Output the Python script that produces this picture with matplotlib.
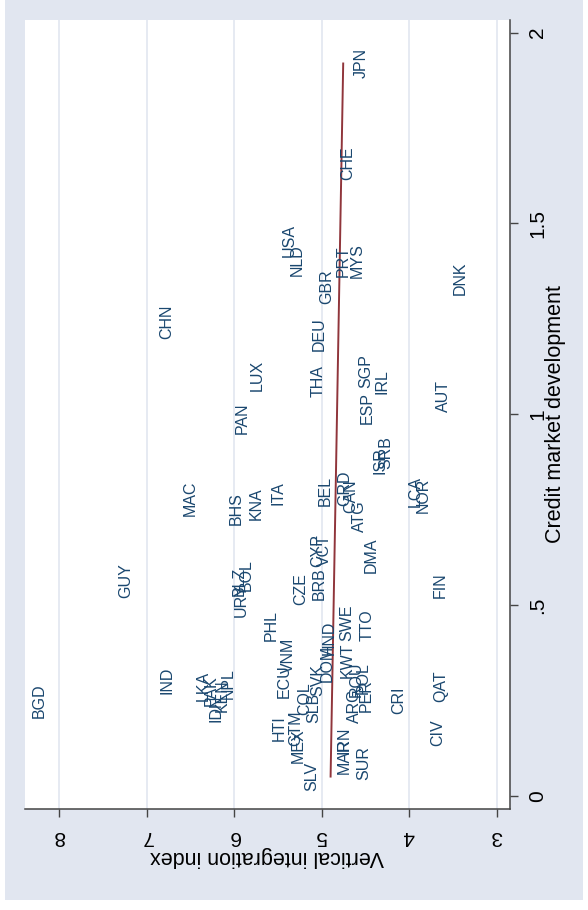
import numpy as np
import matplotlib
matplotlib.use("Agg")
import matplotlib.pyplot as plt
from matplotlib.patches import Rectangle

plt.rcParams['font.family'] = ['Liberation Sans', 'DejaVu Sans']

# Country codes, vertical integration index and credit market development
codes = ["JPN", "CHE", "USA", "NLD", "GBR", "PRT", "MYS", "DNK", "CHN", "LUX",
         "DEU", "THA", "SGP", "ESP", "IRL", "PAN", "AUT", "ISR", "SRB", "MAC",
         "BHS", "KNA", "ITA", "BEL", "GRD", "CAN", "ATG", "LCA", "NOR", "DMA",
         "GUY", "URY", "BLZ", "BOL", "CZE", "BRB", "CYP", "VCT", "FIN", "PHL",
         "TTO", "SWE", "VNM", "ECU", "HND", "DOM", "KWT", "IND", "BGD", "LKA",
         "PAK", "IDN", "KEN", "NPL", "HTI", "MEX", "GTM", "COL", "SLB", "SVK",
         "SLV", "MAR", "IRN", "ARG", "ROU", "PER", "POL", "CRI", "QAT", "CIV",
         "SUR"]
vert_index = [4.552, 4.701, 5.367, 5.283, 4.941, 4.758, 4.598, 3.421, 6.769, 5.741,
              5.032, 5.043, 4.495, 4.483, 4.312, 5.912, 3.603, 4.335, 4.267, 6.507,
              5.981, 5.752, 5.501, 4.963, 4.735, 4.666, 4.563, 3.935, 3.843, 4.431,
              7.237, 5.923, 5.946, 5.865, 5.237, 5.031, 5.043, 4.963, 3.650, 5.581,
              4.483, 4.712, 5.375, 5.432, 4.917, 4.941, 4.712, 6.769, 8.232, 6.358,
              6.266, 6.209, 6.140, 6.071, 5.489, 5.271, 5.295, 5.192, 5.089, 5.043,
              5.111, 4.746, 4.746, 4.625, 4.610, 4.495, 4.522, 4.117, 3.640, 3.670,
              4.518]
credit = [1.919, 1.657, 1.456, 1.403, 1.335, 1.401, 1.403, 1.356, 1.243, 1.102,
          1.209, 1.086, 1.112, 1.015, 1.086, 0.989, 1.047, 0.879, 0.898, 0.780,
          0.753, 0.766, 0.793, 0.798, 0.806, 0.785, 0.732, 0.798, 0.787, 0.630,
          0.565, 0.512, 0.562, 0.578, 0.541, 0.557, 0.643, 0.643, 0.551, 0.447,
          0.447, 0.452, 0.368, 0.300, 0.413, 0.347, 0.356, 0.303, 0.248, 0.287,
          0.274, 0.229, 0.263, 0.294, 0.177, 0.130, 0.177, 0.255, 0.229, 0.303,
          0.050, 0.103, 0.145, 0.235, 0.306, 0.263, 0.307, 0.250, 0.287, 0.164,
          0.085]

# Linear fit of the index on credit market development (end points)
fit_credit = [0.050, 1.919]
fit_index = [4.898, 4.754]

vi_ticks = [3, 4, 5, 6, 7, 8]
cm_ticks = [0, 0.5, 1, 1.5, 2]
cm_tick_labels = ["0", ".5", "1", "1.5", "2"]

navy = "#1a476f"
maroon = "#90353b"
panel = "#e1e6f0"

W, H = 588, 910
fig = plt.figure(figsize=(W / 100, H / 100), dpi=100, facecolor="white")
fig.patches.append(Rectangle((5 / W, 10 / H), 578 / W, 900 / H,
                             transform=fig.transFigure, facecolor=panel,
                             edgecolor="none", zorder=-10))

ax = fig.add_axes([25 / W, 1 - 809 / H, 485 / W, 789 / H])
ax.set_zorder(1)
ax.set_facecolor("white")
ax.set_xlim(8.39, 2.848)
ax.set_ylim(-0.035, 2.033)

for s in ("left", "top"):
    ax.spines[s].set_visible(False)
for s in ("bottom", "right"):
    ax.spines[s].set_color("#444444")
    ax.spines[s].set_linewidth(1.1)

ax.yaxis.tick_right()
ax.yaxis.set_label_position("right")
ax.set_xticks(vi_ticks)
ax.set_xticklabels([str(v) for v in vi_ticks], rotation=180, fontsize=15)
ax.set_yticks(cm_ticks)
ax.set_yticklabels(cm_tick_labels, rotation=90, va="center", fontsize=15)
ax.tick_params(axis="both", length=6, width=1.0, color="#444444", pad=7)
ax.grid(axis="x", color=panel, linewidth=1.2)
ax.set_axisbelow(True)

ax.set_xlabel("Vertical integration index", rotation=180, fontsize=15.5)
ax.xaxis.set_label_coords(0.5, -0.0596)
ax.xaxis.label.set_va("center")
ax.set_ylabel("Credit market development", rotation=90, fontsize=15.5)
ax.yaxis.set_label_coords(1.0928, 0.5)
ax.yaxis.label.set_va("center")

# country codes centred on their points
for c, v, m in zip(codes, vert_index, credit):
    ax.text(v, m, c, rotation=90, ha="center", va="center", fontsize=11.5,
            color=navy)

ax.plot(fit_index, fit_credit, color=maroon, linewidth=1.4)

fig.savefig("out.png", dpi=100, facecolor="white")
